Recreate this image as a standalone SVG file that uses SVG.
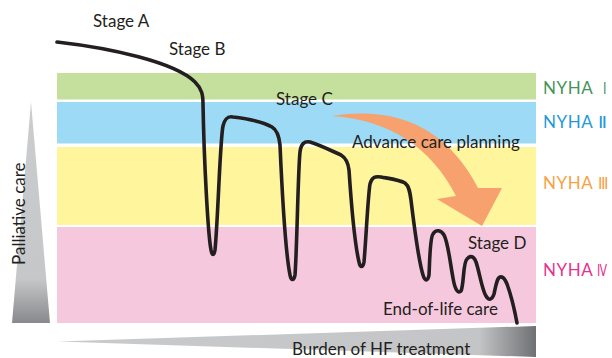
<svg xmlns="http://www.w3.org/2000/svg" width="612" height="358" viewBox="0 0 612 358">
<defs>
<style>
.t{font-family:Lato,"Liberation Sans","Noto Sans CJK KR",sans-serif;font-size:17px;fill:#231F20}
.ny{font-family:Lato,"Liberation Sans","Noto Sans CJK KR",sans-serif;font-size:17px;letter-spacing:0.6px}
.rn{font-family:"DejaVu Sans","Noto Sans CJK KR",sans-serif;font-size:16px}
.curve{fill:none;stroke:#231F20;stroke-width:3.6;stroke-linecap:round;stroke-linejoin:round}
</style>
<linearGradient id="gv" x1="0" y1="0" x2="0" y2="1">
<stop offset="0" stop-color="#CBCCCE"/>
<stop offset="0.8" stop-color="#C6C7C9"/>
<stop offset="1" stop-color="#88898C"/>
</linearGradient>
<linearGradient id="gh" gradientUnits="userSpaceOnUse" x1="58" y1="0" x2="536" y2="0">
<stop offset="0" stop-color="#C9CACC"/>
<stop offset="0.88" stop-color="#C4C5C7"/>
<stop offset="1" stop-color="#6F7073"/>
</linearGradient>
</defs>
<rect width="612" height="358" fill="#FFFFFF"/>
<g id="band-nyha1"><rect x="57" y="73" width="479" height="26.5" fill="#C5DF9C"/><text class="ny" x="543" y="94" fill="#46935A">NYHA</text><text class="rn" x="603" y="94" fill="#46935A" textLength="3.5" lengthAdjust="spacingAndGlyphs">Ⅰ</text></g>
<g id="band-nyha2"><rect x="57" y="102" width="479" height="41.5" fill="#9DDAF5"/><text class="ny" x="543" y="128" fill="#2399D6">NYHA</text><text class="rn" x="598" y="128" fill="#2399D6" textLength="9" lengthAdjust="spacingAndGlyphs">Ⅱ</text></g>
<g id="band-nyha3"><rect x="57" y="147" width="479" height="78" fill="#FEF59D"/><text class="ny" x="543" y="189" fill="#F7A145">NYHA</text><text class="rn" x="598" y="189" fill="#F7A145" textLength="10.5" lengthAdjust="spacingAndGlyphs">Ⅲ</text></g>
<g id="band-nyha4"><rect x="57" y="227" width="479" height="96" fill="#F6C8DD"/><text class="ny" x="543" y="276" fill="#E6318D">NYHA</text><text class="rn" x="597" y="276" fill="#E6318D" textLength="10" lengthAdjust="spacingAndGlyphs">Ⅳ</text></g>
<g id="palliative"><polygon points="31,102 50,323 12,323" fill="url(#gv)"/><text class="t" transform="translate(25,265) rotate(-90)">Palliative care</text></g>
<g id="burden"><polygon points="58,341.5 536,326 536,357 " fill="url(#gh)"/><text class="t" x="292" y="355">Burden of HF treatment</text></g>
<g id="acp"><path d="M332,116 Q432,100 478,188 L502,188 L482,226 L437,199 L456,196 Q418,122 332,116 Z" fill="#F6A16E"/><text class="t" x="352" y="148">Advance care planning</text></g>
<g id="connectors">
<path class="curve" d="M57,42 C110,48 175,62 195,82 C202,89 203,95 203,104 C204,160 208,235 211,250 C212,256 214,256 215,250 C218,220 220,140 223,126 C225,118 228,116 233,117 C250,119 265,123 272,127 C277,130 279,135 280,145 C282,190 286,255 290,275 C291,281 294,281 295,275 C297,250 298,170 300,152 C301,144 304,141 310,142 C320,145 332,151 341,155 C346,158 348,162 349,170 C351,200 355,245 359,262 C360,268 363,268 364,262 C366,240 368,195 370,184 C372,177 375,176 381,177 C392,179 400,180 405,183 C409,186 410,192 411,200 C414,225 419,262 423,275 C425,282 428,281 429,275 C430,255 430,238 433,234 C436,229 441,230 444,235 C448,242 450,262 453,278 C455,290 458,294 461,291 C464,285 463,262 467,259 C470,255 474,256 476,262 C479,270 482,290 486,296 C489,301 492,300 494,294 C496,285 497,278 500,277 C503,276 505,279 507,284 C511,295 515,312 517,323"/>
</g>
<g id="stage-a"><text class="t" x="93" y="27">Stage A</text></g>
<g id="stage-b"><text class="t" x="169" y="55">Stage B</text></g>
<g id="stage-c"><text class="t" x="276" y="105">Stage C</text></g>
<g id="stage-d"><text class="t" x="468" y="249">Stage D</text></g>
<g id="eol"><text class="t" x="383" y="315">End-of-life care</text></g>
</svg>
